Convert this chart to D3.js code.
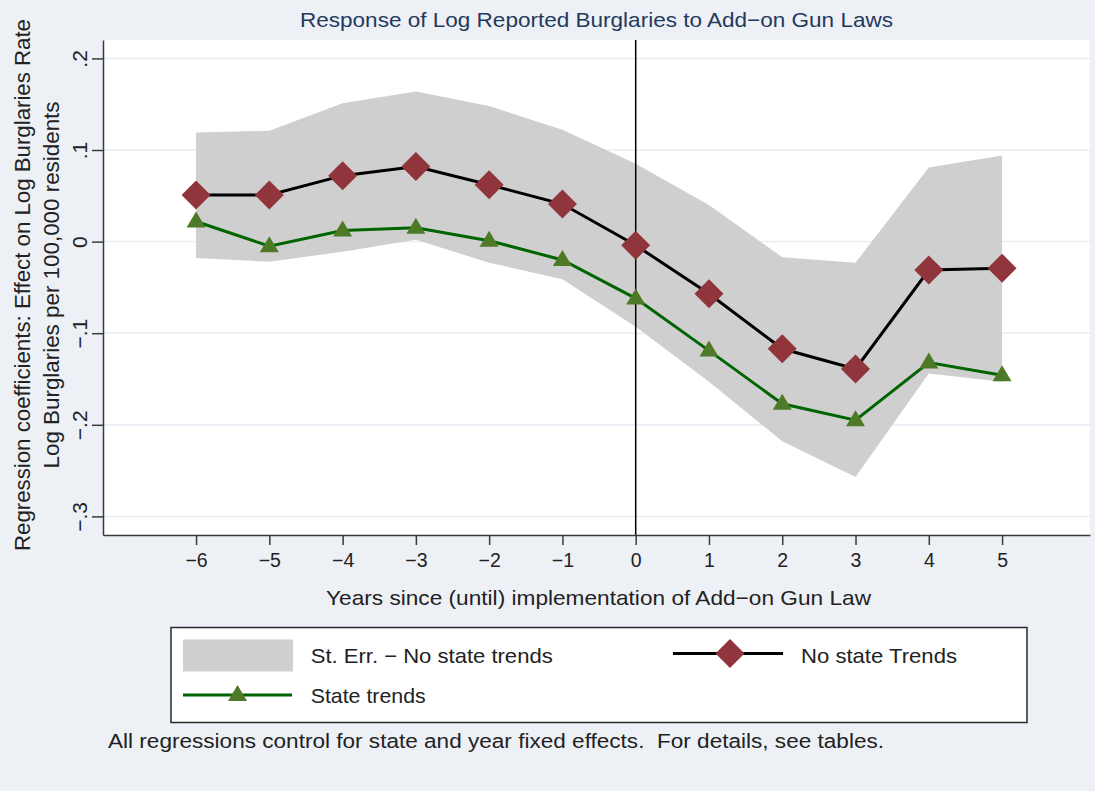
<!DOCTYPE html>
<html>
<head>
<meta charset="utf-8">
<script src="https://cdn.jsdelivr.net/npm/d3@7"></script>
<style>
  html, body { margin: 0; padding: 0; background: #edf1f6; }
  svg { display: block; }
  text { font-family: "Liberation Sans", Arial, Helvetica, sans-serif; white-space: pre; }
</style>
</head>
<body>
<svg id="chart" width="1095" height="791"></svg>
<script>
// Years relative to the add-on gun law
const years = [-6, -5, -4, -3, -2, -1, 0, 1, 2, 3, 4, 5];
// Coefficients, model without state trends
const noStateTrends = [0.051, 0.051, 0.072, 0.082, 0.062, 0.041, -0.004, -0.057, -0.117, -0.139, -0.031, -0.029];
// Coefficients, model with state trends
const stateTrends = [0.022, -0.005, 0.012, 0.015, 0.001, -0.020, -0.062, -0.119, -0.177, -0.195, -0.132, -0.146];
// Standard-error band around the no-state-trends estimates
const seUpper = [0.119, 0.121, 0.151, 0.164, 0.148, 0.122, 0.085, 0.040, -0.017, -0.023, 0.081, 0.094];
const seLower = [-0.018, -0.022, -0.011, 0.002, -0.023, -0.041, -0.093, -0.153, -0.218, -0.257, -0.144, -0.153];
// Axis ticks
const xTicks = [-6, -5, -4, -3, -2, -1, 0, 1, 2, 3, 4, 5];
const yTicks = [0.2, 0.1, 0, -0.1, -0.2, -0.3];

const svg = d3.select("#chart");
const W = 1095, H = 791;
const plot = { left: 103, right: 1090, top: 40, bottom: 535 };

const x = d3.scaleLinear().domain([-7.27, 6.2]).range([plot.left, plot.right]);
const y = d3.scaleLinear().domain([-0.3203, 0.2201]).range([plot.bottom, plot.top]);

const COL = {
  bg: "#edf1f6", grid: "#e6edf5", band: "#cfcfcf", axis: "#3a3a3a",
  black: "#000000", diamond: "#90353b", green: "#006400", tri: "#4e7a27", title: "#24395c", text: "#222222"
};

svg.append("rect").attr("width", W).attr("height", H).attr("fill", COL.bg);
svg.append("rect")
  .attr("x", plot.left).attr("y", plot.top)
  .attr("width", plot.right - plot.left).attr("height", plot.bottom - plot.top)
  .attr("fill", "#ffffff");

// horizontal gridlines
svg.append("g").selectAll("line").data(yTicks).join("line")
  .attr("x1", plot.left).attr("x2", plot.right)
  .attr("y1", d => y(d)).attr("y2", d => y(d))
  .attr("stroke", COL.grid).attr("stroke-width", 1.5);

const rows = years.map((yr, i) => ({
  yr, hi: seUpper[i], lo: seLower[i], a: noStateTrends[i], b: stateTrends[i]
}));

// standard error band
svg.append("path").datum(rows)
  .attr("fill", COL.band)
  .attr("d", d3.area().x(d => x(d.yr)).y0(d => y(d.lo)).y1(d => y(d.hi)));

// vertical reference line at implementation year
svg.append("line")
  .attr("x1", x(0)).attr("x2", x(0))
  .attr("y1", plot.top).attr("y2", plot.bottom)
  .attr("stroke", COL.black).attr("stroke-width", 1.5);

// series lines
const lineA = d3.line().x(d => x(d.yr)).y(d => y(d.a));
const lineB = d3.line().x(d => x(d.yr)).y(d => y(d.b));
svg.append("path").datum(rows).attr("fill", "none")
  .attr("stroke", COL.green).attr("stroke-width", 3).attr("d", lineB);
svg.append("path").datum(rows).attr("fill", "none")
  .attr("stroke", COL.black).attr("stroke-width", 3).attr("d", lineA);

// marker shapes
const diamondPath = (r) => `M0,${-r}L${r},0L0,${r}L${-r},0Z`;
const trianglePath = (w, up, down) => `M0,${-up}L${w / 2},${down}L${-w / 2},${down}Z`;

svg.append("g").selectAll("path").data(rows).join("path")
  .attr("transform", d => `translate(${x(d.yr)},${y(d.b)})`)
  .attr("d", trianglePath(19, 10, 6))
  .attr("fill", COL.tri);

svg.append("g").selectAll("path").data(rows).join("path")
  .attr("transform", d => `translate(${x(d.yr)},${y(d.a)})`)
  .attr("d", diamondPath(14.5))
  .attr("fill", COL.diamond);

// axes
const fmtY = d => d === 0 ? "0" : (d < 0 ? "\u2212" : "") + Math.abs(d).toFixed(1).replace(/^0/, "");
const fmtX = d => (d < 0 ? "\u2212" : "") + Math.abs(d);

const gx = svg.append("g").attr("transform", `translate(0,${plot.bottom})`)
  .call(d3.axisBottom(x).tickValues(xTicks).tickFormat(fmtX).tickSize(10).tickSizeOuter(0));
gx.select(".domain").attr("stroke", COL.axis).attr("stroke-width", 1.5);
gx.selectAll(".tick line").attr("stroke", COL.axis).attr("stroke-width", 1.5);
gx.selectAll(".tick text")
  .attr("y", 31.5).attr("dy", 0)
  .attr("fill", COL.text).style("font-size", "19.5px");

const gy = svg.append("g").attr("transform", `translate(${plot.left},0)`)
  .call(d3.axisLeft(y).tickValues(yTicks).tickFormat(fmtY).tickSize(11).tickSizeOuter(0));
gy.select(".domain").attr("stroke", COL.axis).attr("stroke-width", 1.5);
gy.selectAll(".tick line").attr("stroke", COL.axis).attr("stroke-width", 1.5);
gy.selectAll(".tick text")
  .attr("x", 0).attr("dy", 0)
  .attr("transform", "translate(-16,0) rotate(-90)")
  .attr("text-anchor", "middle")
  .attr("fill", COL.text).style("font-size", "21px");

// titles
svg.append("text")
  .attr("x", 596.5).attr("y", 27.3).attr("text-anchor", "middle")
  .attr("fill", COL.title).style("font-size", "21px")
  .attr("textLength", 593).attr("lengthAdjust", "spacingAndGlyphs")
  .text("Response of Log Reported Burglaries to Add\u2212on Gun Laws");

svg.append("text")
  .attr("x", 598.5).attr("y", 605).attr("text-anchor", "middle")
  .attr("fill", COL.text).style("font-size", "21px")
  .attr("textLength", 545).attr("lengthAdjust", "spacingAndGlyphs")
  .text("Years since (until) implementation of Add\u2212on Gun Law");

const yTitle = [
  { text: "Regression coefficients: Effect on Log Burglaries Rate", base: 29.5, len: 532 },
  { text: "Log Burglaries per 100,000 residents", base: 59, len: 367 }
];
svg.append("g").selectAll("text").data(yTitle).join("text")
  .attr("transform", d => `translate(${d.base},285) rotate(-90)`)
  .attr("text-anchor", "middle")
  .attr("fill", COL.text).style("font-size", "21.5px")
  .attr("textLength", d => d.len).attr("lengthAdjust", "spacingAndGlyphs")
  .text(d => d.text);

// legend
const lg = svg.append("g");
lg.append("rect")
  .attr("x", 171).attr("y", 627.5).attr("width", 856).attr("height", 95)
  .attr("fill", "#ffffff").attr("stroke", "#2a2a2a").attr("stroke-width", 1.5);

lg.append("rect")
  .attr("x", 183).attr("y", 639.5).attr("width", 110).attr("height", 32)
  .attr("fill", COL.band);
lg.append("text").attr("x", 310.7).attr("y", 662.7)
  .attr("fill", COL.text).style("font-size", "21px")
  .attr("textLength", 242).attr("lengthAdjust", "spacingAndGlyphs")
  .text("St. Err. \u2212 No state trends");

lg.append("line").attr("x1", 673).attr("x2", 783).attr("y1", 653.5).attr("y2", 653.5)
  .attr("stroke", COL.black).attr("stroke-width", 3);
lg.append("path").attr("transform", "translate(730,653.5)")
  .attr("d", diamondPath(14.5)).attr("fill", COL.diamond);
lg.append("text").attr("x", 801).attr("y", 662.7)
  .attr("fill", COL.text).style("font-size", "21px")
  .attr("textLength", 156).attr("lengthAdjust", "spacingAndGlyphs")
  .text("No state Trends");

lg.append("line").attr("x1", 183).attr("x2", 292).attr("y1", 695).attr("y2", 695)
  .attr("stroke", COL.green).attr("stroke-width", 3);
lg.append("path").attr("transform", "translate(237.5,695)")
  .attr("d", trianglePath(19, 10, 6)).attr("fill", COL.tri);
lg.append("text").attr("x", 310.7).attr("y", 702.7)
  .attr("fill", COL.text).style("font-size", "21px")
  .attr("textLength", 115).attr("lengthAdjust", "spacingAndGlyphs")
  .text("State trends");

// note
svg.append("text").attr("x", 108).attr("y", 748)
  .attr("fill", COL.text).style("font-size", "20px")
  .attr("textLength", 776).attr("lengthAdjust", "spacingAndGlyphs")
  .text("All regressions control for state and year fixed effects.  For details, see tables.");
</script>
</body>
</html>
